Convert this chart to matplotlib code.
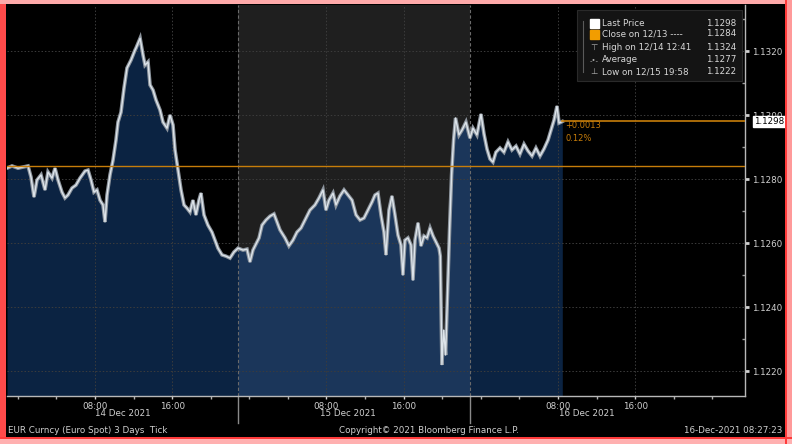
import numpy as np
import matplotlib
matplotlib.use("Agg")
import matplotlib.pyplot as plt
from matplotlib.patches import Rectangle
from matplotlib.lines import Line2D

# ---------------- data (hours since 14 Dec 2021 00:00, EUR/USD) ----------------
hours = [-1.12, -0.60, 0.02, 0.64, 1.06, 1.37, 1.68, 1.99, 2.41, 2.82, 3.13, 3.55, 3.86, 4.17,
         4.58, 4.89, 5.20, 5.62, 6.03, 6.45, 6.97, 7.28, 7.59, 7.90, 8.21, 8.52, 8.83, 9.04,
         9.25, 9.56, 9.87, 10.18, 10.39, 10.70, 11.01, 11.32, 11.74, 12.15, 12.25, 12.68, 12.98,
         13.19, 13.50, 13.71, 14.02, 14.33, 14.74, 15.05, 15.47, 15.78, 16.09, 16.30, 16.61,
         16.92, 17.23, 17.54, 17.85, 18.16, 18.47, 18.78, 18.99, 19.30, 19.71, 20.13, 20.44,
         20.75, 21.17, 21.58, 22.00, 22.41, 22.83, 23.35, 23.76, 24.07, 24.38, 24.69, 25.01,
         25.32, 25.73, 26.15, 26.56, 26.87, 27.18, 27.70, 28.11, 28.53, 28.94, 29.36, 29.77,
         30.29, 30.81, 31.23, 31.64, 31.95, 32.26, 32.68, 32.99, 33.40, 33.82, 34.23, 34.65,
         35.06, 35.48, 35.89, 36.31, 36.72, 37.03, 37.34, 37.65, 37.96, 38.17, 38.48, 38.79,
         39.10, 39.41, 39.72, 39.93, 40.14, 40.45, 40.76, 40.97, 41.18, 41.49, 41.80, 42.11,
         42.43, 42.74, 43.05, 43.36, 43.67, 43.80, 43.97, 44.15, 44.35, 44.56, 44.76, 44.97,
         45.18, 45.38, 45.74, 46.05, 46.46, 46.88, 47.19, 47.60, 48.02, 48.33, 48.64, 48.95,
         49.26, 49.57, 49.99, 50.40, 50.82, 51.23, 51.65, 52.06, 52.48, 52.89, 53.31, 53.72,
         54.14, 54.55, 54.97, 55.28, 55.59, 55.90, 56.11, 56.45]
price = [1.12834, 1.12841, 1.12834, 1.12838, 1.12841, 1.12806, 1.12744, 1.12797, 1.12813, 1.12766,
         1.12822, 1.12803, 1.12834, 1.12797, 1.12759, 1.12741, 1.12750, 1.12772, 1.12781, 1.12803,
         1.12825, 1.12828, 1.12797, 1.12759, 1.12766, 1.12734, 1.12719, 1.12666, 1.12750, 1.12813,
         1.12859, 1.12922, 1.12978, 1.13009, 1.13084, 1.13147, 1.13172, 1.13203, 1.13209, 1.13240,
         1.13188, 1.13156, 1.13166, 1.13094, 1.13078, 1.13047, 1.13016, 1.12978, 1.12959, 1.13000,
         1.12969, 1.12891, 1.12828, 1.12766, 1.12719, 1.12709, 1.12697, 1.12734, 1.12688, 1.12734,
         1.12756, 1.12688, 1.12656, 1.12634, 1.12609, 1.12584, 1.12563, 1.12559, 1.12553, 1.12572,
         1.12584, 1.12578, 1.12581, 1.12541, 1.12578, 1.12597, 1.12616, 1.12656, 1.12672, 1.12684,
         1.12691, 1.12666, 1.12641, 1.12616, 1.12591, 1.12609, 1.12634, 1.12647, 1.12672, 1.12703,
         1.12719, 1.12741, 1.12766, 1.12703, 1.12734, 1.12756, 1.12719, 1.12747, 1.12766, 1.12750,
         1.12734, 1.12688, 1.12672, 1.12678, 1.12703, 1.12728, 1.12750, 1.12756, 1.12688, 1.12634,
         1.12563, 1.12703, 1.12747, 1.12688, 1.12625, 1.12594, 1.12500, 1.12609, 1.12616, 1.12594,
         1.12484, 1.12609, 1.12663, 1.12591, 1.12622, 1.12616, 1.12647, 1.12622, 1.12603, 1.12584,
         1.12559, 1.12220, 1.12328, 1.12250, 1.12453, 1.12641, 1.12813, 1.12922, 1.12991, 1.12938,
         1.12953, 1.12978, 1.12928, 1.12959, 1.12938, 1.13003, 1.12941, 1.12894, 1.12863, 1.12853,
         1.12884, 1.12897, 1.12884, 1.12916, 1.12891, 1.12903, 1.12878, 1.12909, 1.12888, 1.12872,
         1.12897, 1.12872, 1.12894, 1.12922, 1.12953, 1.12984, 1.13028, 1.12975, 1.12980]

close_price = 1.1284
last_price = 1.1298
day_breaks = [22.85, 46.85]
major_ticks = [8, 16, 32, 40, 56, 64]
major_labels = ["08:00", "16:00", "08:00", "16:00", "08:00", "16:00"]
date_labels = ["14 Dec 2021", "15 Dec 2021", "16 Dec 2021"]
date_pos = [10.9, 34.2, 59.0]
y_ticks = [1.1220, 1.1240, 1.1260, 1.1280, 1.1300, 1.1320]
legend_names = ["Last Price", "Close on 12/13 ----", "High on 12/14 12:41", "Average", "Low on 12/15 19:58"]
legend_values = ["1.1298", "1.1284", "1.1324", "1.1277", "1.1222"]

W, H = 792, 444
plt.rcParams['font.family'] = ['DejaVu Sans']
fig = plt.figure(figsize=(W / 100, H / 100), dpi=100, facecolor='black')

def fx(x):
    return x / W

def fy(y):
    return 1 - y / H

ax_l, ax_r, ax_t, ax_b = 7, 745, 5, 396
ax = fig.add_axes([fx(ax_l), fy(ax_b), fx(ax_r - ax_l), (ax_b - ax_t) / H])
ax.set_facecolor('black')
xmin, xmax = -1.12, 75.39
ymin, ymax = 1.12122, 1.13344
ax.set_xlim(xmin, xmax)
ax.set_ylim(ymin, ymax)

t = np.array(hours)
p = np.array(price)

# middle day background
ax.axvspan(day_breaks[0], day_breaks[1], color='#1f1f1f', zorder=0, lw=0)

# fills
ax.fill_between(t, p, ymin, color='#0b2342', lw=0, zorder=1)
tm = np.concatenate([[day_breaks[0]], t[(t > day_breaks[0]) & (t < day_breaks[1])], [day_breaks[1]]])
pm = np.interp(tm, t, p)
ax.fill_between(tm, pm, ymin, color='#1b365a', lw=0, zorder=1)

# grid
for yv in y_ticks:
    ax.axhline(yv, color='#3c3c3c', lw=0.7, ls=(0, (1.5, 2)), zorder=2)
for xv in major_ticks:
    ax.axvline(xv, color='#3c3c3c', lw=0.7, ls=(0, (1.5, 2)), zorder=2)
for xv in day_breaks:
    ax.axvline(xv, color='#6a6a6a', lw=0.8, ls=(0, (3, 2)), zorder=2)
    ax.add_line(Line2D([xv, xv], [0, -0.07], transform=ax.get_xaxis_transform(),
                       color='#8a8a8a', lw=1.0, clip_on=False))

# price line
ax.plot(t, p, color='#8d959e', lw=2.6, zorder=3, solid_joinstyle='miter')
ax.plot(t, p, color='#dde4ea', lw=1.0, zorder=4)

# close line and last price line
ax.axhline(close_price, color='#c77d0a', lw=1.0, zorder=5)
ax.plot([t[-1], xmax], [last_price, last_price], color='#c77d0a', lw=1.2, zorder=5)
ax.text(t[-1] + 0.3, last_price - 0.00012, "+0.0013", color='#c77d0a', fontsize=6, va='center', zorder=6)
ax.text(t[-1] + 0.3, last_price - 0.00052, "0.12%", color='#c77d0a', fontsize=6, va='center', zorder=6)

# axes styling
for s in ['left', 'top']:
    ax.spines[s].set_visible(False)
ax.spines['right'].set_color('#b8b8b8')
ax.spines['bottom'].set_color('#b8b8b8')
ax.spines['right'].set_linewidth(1.0)
ax.spines['bottom'].set_linewidth(1.0)
ax.yaxis.tick_right()
ax.set_yticks(y_ticks)
ax.set_yticklabels([f"{v:.4f}" for v in y_ticks])
ax.set_yticks(np.arange(1.1230, 1.1340, 0.002), minor=True)
ax.tick_params(axis='y', which='major', colors='#d0d0d0', labelsize=6.3, length=3, width=2, pad=2)
ax.tick_params(axis='y', which='minor', colors='#9a9a9a', length=2, width=1, direction='in')
ax.set_xticks(major_ticks)
ax.set_xticklabels(major_labels)
ax.set_xticks([h for h in range(0, 76, 4) if h not in major_ticks], minor=True)
ax.tick_params(axis='x', which='major', colors='#d0d0d0', labelsize=6.3, length=2, width=1, pad=2)
ax.tick_params(axis='x', which='minor', colors='#b0b0b0', length=2, width=1)

for lab, pos in zip(date_labels, date_pos):
    ax.text(pos, -0.045, lab, transform=ax.get_xaxis_transform(), color='#d0d0d0',
            fontsize=6.3, ha='center', va='center')

# last price label box
ax.text(1.012, (last_price - ymin) / (ymax - ymin), f"{last_price:.4f}", transform=ax.transAxes,
        color='black', fontsize=6.3, va='center', ha='left', zorder=10, clip_on=False,
        bbox=dict(boxstyle='square,pad=0.15', fc='white', ec='white'))

# legend box
lx0, ly0, lx1, ly1 = 577, 10, 742, 81
fig.patches.append(Rectangle((fx(lx0), fy(ly1)), fx(lx1 - lx0), (ly1 - ly0) / H,
                             transform=fig.transFigure, fc='#141414', ec='#2a2a2a', lw=0.8, zorder=5))
rows_y = [23, 34, 47, 60, 72]
fig.lines.append(Line2D([fx(583), fx(583)], [fy(21), fy(72)], transform=fig.transFigure,
                        color='#5a5a5a', lw=0.8, zorder=6))
for i, (name, val, yy) in enumerate(zip(legend_names, legend_values, rows_y)):
    fig.text(fx(602), fy(yy), name, color='#d8d8d8', fontsize=6.3, va='center', ha='left', zorder=7)
    fig.text(fx(736), fy(yy), val, color='#d8d8d8', fontsize=6.3, va='center', ha='right', zorder=7)
fig.patches.append(Rectangle((fx(590), fy(28)), fx(9), 9 / H, transform=fig.transFigure,
                             fc='white', ec='white', zorder=7))
fig.patches.append(Rectangle((fx(590), fy(39)), fx(9), 9 / H, transform=fig.transFigure,
                             fc='#f29d00', ec='#f29d00', zorder=7))
fig.text(fx(594), fy(47), "⊤", color='#aaaaaa', fontsize=6, ha='center', va='center', zorder=7)
fig.text(fx(594), fy(60), "-•-", color='#aaaaaa', fontsize=5, ha='center', va='center', zorder=7)
fig.text(fx(594), fy(72), "⊥", color='#aaaaaa', fontsize=6, ha='center', va='center', zorder=7)

# footer
fig.text(fx(8), fy(430), "EUR Curncy (Euro Spot) 3 Days  Tick", color='#cfcfcf', fontsize=6.3,
         va='center', ha='left')
fig.text(fx(429), fy(430), "Copyright\u00a9 2021 Bloomberg Finance L.P.", color='#cfcfcf', fontsize=6.3,
         va='center', ha='center')
fig.text(fx(782), fy(430), "16-Dec-2021 08:27:23", color='#cfcfcf', fontsize=6.3,
         va='center', ha='right')

# screenshot border
fig.patches.append(Rectangle((0, 0), fx(6), 1, transform=fig.transFigure, fc='#ff4a4a', ec='none', zorder=20))
fig.patches.append(Rectangle((0, fy(4)), 1, 4 / H, transform=fig.transFigure, fc='#ffaaaa', ec='none', zorder=20))
fig.patches.append(Rectangle((fx(785), 0), fx(7), 1, transform=fig.transFigure, fc='#ff9a9a', ec='none', zorder=20))
fig.patches.append(Rectangle((fx(785), 0), fx(2), 1, transform=fig.transFigure, fc='#ff3b3b', ec='none', zorder=21))
fig.patches.append(Rectangle((0, 0), 1, 7 / H, transform=fig.transFigure, fc='#ffb0b0', ec='none', zorder=20))
fig.patches.append(Rectangle((0, fy(439)), 1, 2 / H, transform=fig.transFigure, fc='#ff3b3b', ec='none', zorder=21))

fig.savefig("out.png", dpi=100, facecolor='black')
